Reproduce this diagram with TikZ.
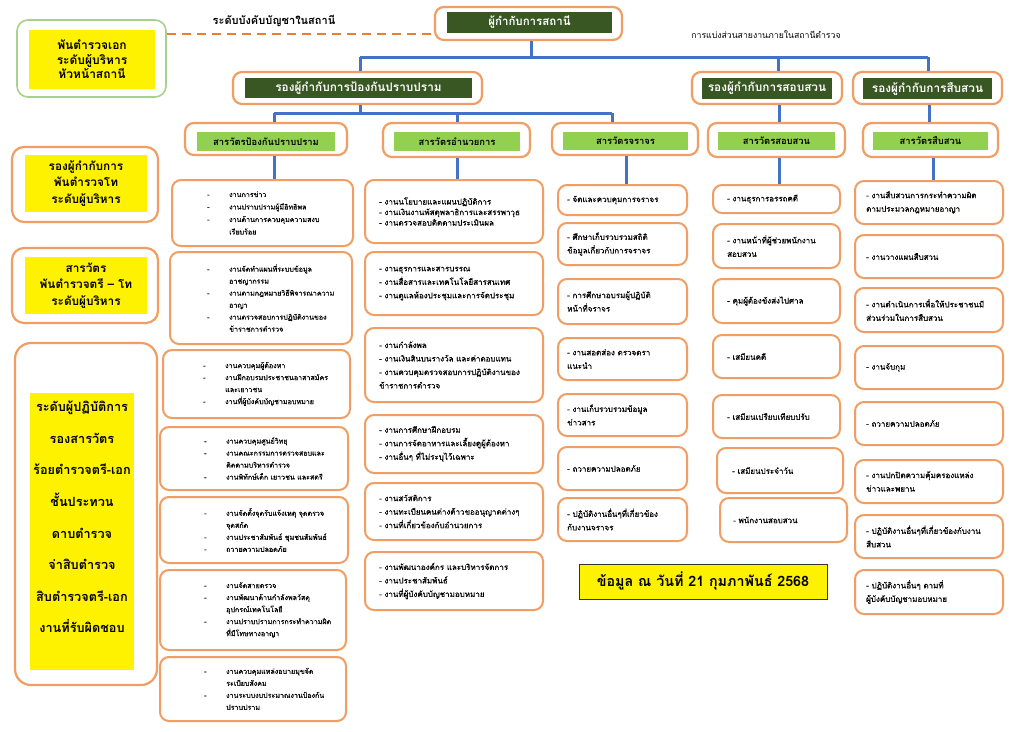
\documentclass[tikz,border=0pt]{standalone}
\usepackage{fontspec}
\setmainfont{Loma}[Script=Thai]
\newfontfamily\itemfont{Loma}[Script=Thai,FakeBold=0.6]
\definecolor{orng}{RGB}{240,158,100}
\definecolor{orngd}{RGB}{237,125,49}
\definecolor{dkgreen}{RGB}{56,87,35}
\definecolor{ltgreen}{RGB}{146,208,80}
\definecolor{bluec}{RGB}{68,114,196}
\definecolor{grnb}{RGB}{169,209,142}
\newlength\dind \setlength\dind{22pt}
\newcommand\dl[1]{\makebox[\dind][l]{-}#1}
\newcommand\cl[1]{\hspace*{\dind}#1}
\newcommand\mkbox[7]{%
 \pgfmathsetlengthmacro\bw{#3-#2}\pgfmathsetlengthmacro\bh{#5-#4}%
 \node[#6,minimum width=\bw,minimum height=\bh] (#1) at ({(#2+#3)/2},{(#4+#5)/2}) {#7};}
\newcommand\mkitem[8]{%
 \mkbox{#1}{#2}{#3}{#4}{#5}{itembox}{}%
 \node[itemtext,#7] (#1-t) at (#6,{(#4+#5)/2}) {#8};}
\begin{document}
\begin{tikzpicture}[x=1pt,y=-1pt,
  obox/.style={draw=orng,line width=2.2pt,rounded corners=9pt,fill=white,inner sep=0pt},
  gbox/.style={draw=grnb,line width=1.6pt,rounded corners=11pt,fill=white,inner sep=0pt},
  dkbox/.style={fill=dkgreen,text=white,font=\bfseries\fontsize{11.8}{13}\selectfont,inner sep=0pt},
  ltbox/.style={fill=ltgreen,text=black,font=\bfseries\fontsize{9.4}{11}\selectfont,inner sep=0pt},
  ylbox/.style={fill=yellow,align=center,inner sep=0pt,font=\bfseries\fontsize{11.8}{16.5}\selectfont},
  itembox/.style={draw=orng,line width=2pt,rounded corners=9pt,fill=white,inner sep=0pt},
  itemtext/.style={anchor=west,align=left,inner sep=0pt,font=\itemfont\fontsize{8}{13.5}\selectfont},
  conn/.style={draw=bluec,line width=3pt},
  dashc/.style={draw=orngd,line width=2.5pt,dash pattern=on 9pt off 6pt},
  lbl/.style={inner sep=0pt}]
\useasboundingbox[fill=white] (0,0) rectangle (1024,731);

% top level
\mkbox{top}{435}{622}{7}{40}{obox}{}
\mkbox{topin}{447}{612}{12}{33}{dkbox,font=\bfseries\fontsize{11.5}{13}\selectfont}{ผู้กำกับการสถานี}
\mkbox{lA}{17}{166}{20}{97}{gbox}{}
\mkbox{lAin}{29}{155}{30}{89}{ylbox,font=\bfseries\fontsize{12}{14.5}\selectfont}{พันตำรวจเอก\\ระดับผู้บริหาร\\หัวหน้าสถานี}
\node[lbl,font=\bfseries\fontsize{11}{12}\selectfont] (lbl1) at (274,21) {ระดับบังคับบัญชาในสถานี};
\node[lbl,font=\fontsize{8.7}{12}\selectfont] (lbl2) at (766,35) {การแบ่งส่วนสายงานภายในสถานีตำรวจ};

% deputies
\mkbox{dep1}{233}{482}{72}{104}{obox}{}
\mkbox{dep1in}{245}{472}{78}{98}{dkbox}{รองผู้กำกับการป้องกันปราบปราม}
\mkbox{dep2}{692}{842}{72}{104}{obox}{}
\mkbox{dep2in}{702}{832}{78}{99}{dkbox}{รองผู้กำกับการสอบสวน}
\mkbox{dep3}{853}{1002}{72}{104}{obox}{}
\mkbox{dep3in}{863}{992}{78}{99}{dkbox}{รองผู้กำกับการสืบสวน}

% sections
\mkbox{sec1}{185}{347}{123}{155}{obox}{}
\mkbox{sec1in}{197}{335}{132}{151}{ltbox}{สารวัตรป้องกันปราบปราม}
\mkbox{sec2}{383}{530}{123}{157}{obox}{}
\mkbox{sec2in}{394}{520}{132}{151}{ltbox}{สารวัตรอำนวยการ}
\mkbox{sec3}{552}{698}{123}{155}{obox}{}
\mkbox{sec3in}{563}{688}{132}{150}{ltbox}{สารวัตรจราจร}
\mkbox{sec4}{708}{845}{123}{157}{obox}{}
\mkbox{sec4in}{718}{835}{132}{150}{ltbox}{สารวัตรสอบสวน}
\mkbox{sec5}{863}{998}{123}{157}{obox}{}
\mkbox{sec5in}{873}{988}{132}{150}{ltbox}{สารวัตรสืบสวน}

% left labels
\mkbox{lB}{12}{158}{147}{222}{obox,rounded corners=12pt}{}
\mkbox{lBin}{25}{147}{155}{212}{ylbox}{รองผู้กำกับการ\\พันตำรวจโท\\ระดับผู้บริหาร}
\mkbox{lC}{12}{158}{248}{323}{obox,rounded corners=12pt}{}
\mkbox{lCin}{25}{147}{257}{314}{ylbox}{สารวัตร\\พันตำรวจตรี -- โท\\ระดับผู้บริหาร}
\mkbox{lD}{15}{157}{343}{685}{obox,rounded corners=16pt}{}
\mkbox{lDin}{30}{134}{393}{670}{ylbox}{}
\node[align=center,inner sep=0pt,font=\bfseries\fontsize{12.7}{31.6}\selectfont] (lDt) at (82,517) {ระดับผู้ปฏิบัติการ\\รองสารวัตร\\ร้อยตำรวจตรี-เอก\\ชั้นประทวน\\ดาบตำรวจ\\จ่าสิบตำรวจ\\สิบตำรวจตรี-เอก\\งานที่รับผิดชอบ};

% column 1
\mkitem{c1a}{172}{353}{180}{246}{207}{font=\itemfont\fontsize{7.1}{12.5}\selectfont}{\dl{งานการข่าว}\\\dl{งานปราบปรามผู้มีอิทธิพล}\\\dl{งานด้านการควบคุมความสงบ}\\\cl{เรียบร้อย}}
\mkitem{c1b}{170}{352}{252}{344}{207}{font=\itemfont\fontsize{7.1}{12}\selectfont}{\dl{งานจัดทำแผนที่ระบบข้อมูล}\\\cl{อาชญากรรม}\\\dl{งานตามกฎหมายวิธีพิจารณาความ}\\\cl{อาญา}\\\dl{งานตรวจสอบการปฏิบัติงานของ}\\\cl{ข้าราชการตำรวจ}}
\mkitem{c1c}{163}{350}{350}{418}{203}{font=\itemfont\fontsize{7.1}{12}\selectfont}{\dl{งานควบคุมผู้ต้องหา}\\\dl{งานฝึกอบรมประชาชนอาสาสมัคร}\\\cl{และเยาวชน}\\\dl{งานที่ผู้บังคับบัญชามอบหมาย}}
\mkitem{c1d}{160}{348}{427}{490}{204}{font=\itemfont\fontsize{7.1}{12}\selectfont}{\dl{งานควบคุมศูนย์วิทยุ}\\\dl{งานคณะกรรมการตรวจสอบและ}\\\cl{ติดตามบริหารตำรวจ}\\\dl{งานพิทักษ์เด็ก เยาวชน และสตรี}}
\mkitem{c1e}{160}{348}{497}{563}{204}{font=\itemfont\fontsize{7.1}{12}\selectfont}{\dl{งานจัดตั้งจุดรับแจ้งเหตุ จุดตรวจ}\\\cl{จุดสกัด}\\\dl{งานประชาสัมพันธ์ ชุมชนสัมพันธ์}\\\dl{ถวายความปลอดภัย}}
\mkitem{c1f}{160}{346}{570}{650}{204}{font=\itemfont\fontsize{7.1}{12}\selectfont}{\dl{งานจัดสายตรวจ}\\\dl{งานพัฒนาด้านกำลังพลวัสดุ}\\\cl{อุปกรณ์เทคโนโลยี}\\\dl{งานปราบปรามการกระทำความผิด}\\\cl{ที่มีโทษทางอาญา}}
\mkitem{c1g}{160}{346}{657}{721}{204}{font=\itemfont\fontsize{7.1}{12}\selectfont}{\dl{งานควบคุมแหล่งอบายมุขจัด}\\\cl{ระเบียบสังคม}\\\dl{งานระบบงบประมาณงานป้องกัน}\\\cl{ปราบปราม}}

% column 2
\mkitem{c2a}{365}{543}{180}{243}{379}{font=\itemfont\fontsize{8}{10.5}\selectfont}{- งานนโยบายและแผนปฏิบัติการ\\- งานเงินงานพัสดุพลาธิการและสรรพาวุธ\\- งานตรวจสอบติดตามประเมินผล}
\mkitem{c2b}{365}{543}{252}{315}{379}{}{- งานธุรการและสารบรรณ\\- งานสื่อสารและเทคโนโลยีสารสนเทศ\\- งานดูแลห้องประชุมและการจัดประชุม}
\mkitem{c2c}{365}{543}{328}{402}{379}{}{- งานกำลังพล\\- งานเงินสินบนรางวัล และค่าตอบแทน\\- งานควบคุมตรวจสอบการปฏิบัติงานของ\\ข้าราชการตำรวจ}
\mkitem{c2d}{365}{543}{415}{473}{379}{}{- งานการศึกษาฝึกอบรม\\- งานการจัดอาหารและเลี้ยงดูผู้ต้องหา\\- งานอื่นๆ ที่ไม่ระบุไว้เฉพาะ}
\mkitem{c2e}{365}{543}{483}{540}{379}{}{- งานสวัสดิการ\\- งานทะเบียนคนต่างด้าวขออนุญาตต่างๆ\\- งานที่เกี่ยวข้องกับอำนวยการ}
\mkitem{c2f}{365}{543}{552}{610}{379}{}{- งานพัฒนาองค์กร และบริหารจัดการ\\- งานประชาสัมพันธ์\\- งานที่ผู้บังคับบัญชามอบหมาย}

% column 3
\mkitem{c3a}{558}{687}{185}{215}{567}{}{- จัดและควบคุมการจราจร}
\mkitem{c3b}{558}{687}{223}{265}{567}{}{- ศึกษาเก็บรวบรวมสถิติ\\ข้อมูลเกี่ยวกับการจราจร}
\mkitem{c3c}{558}{687}{279}{324}{567}{}{- การศึกษาอบรมผู้ปฏิบัติ\\หน้าที่จราจร}
\mkitem{c3d}{558}{687}{338}{380}{567}{}{- งานสอดส่อง ตรวจตรา\\แนะนำ}
\mkitem{c3e}{558}{687}{394}{436}{567}{}{- งานเก็บรวบรวมข้อมูล\\ข่าวสาร}
\mkitem{c3f}{558}{687}{447}{490}{567}{}{- ถวายความปลอดภัย}
\mkitem{c3g}{558}{687}{498}{541}{567}{}{- ปฏิบัติงานอื่นๆที่เกี่ยวข้อง\\กับงานจราจร}

% column 4
\mkitem{c4a}{713}{840}{185}{213}{727}{}{- งานธุรการอรรถคดี}
\mkitem{c4b}{713}{840}{224}{268}{727}{}{- งานหน้าที่ผู้ช่วยพนักงาน\\สอบสวน}
\mkitem{c4c}{713}{840}{279}{323}{727}{}{- คุมผู้ต้องขังส่งไปศาล}
\mkitem{c4d}{713}{840}{335}{378}{727}{}{- เสมียนคดี}
\mkitem{c4e}{713}{840}{395}{438}{727}{}{- เสมียนเปรียบเทียบปรับ}
\mkitem{c4f}{717}{843}{448}{493}{732}{}{- เสมียนประจำวัน}
\mkitem{c4g}{720}{847}{498}{542}{733}{}{- พนักงานสอบสวน}

% column 5
\mkitem{c5a}{855}{1003}{181}{224}{866}{}{- งานสืบสวนการกระทำความผิด\\ตามประมวลกฎหมายอาญา}
\mkitem{c5b}{855}{1003}{235}{278}{866}{}{- งานวางแผนสืบสวน}
\mkitem{c5c}{855}{1003}{288}{332}{866}{}{- งานดำเนินการเพื่อให้ประชาชนมี\\ส่วนร่วมในการสืบสวน}
\mkitem{c5d}{855}{1003}{346}{389}{866}{}{- งานจับกุม}
\mkitem{c5e}{855}{1003}{402}{445}{866}{}{- ถวายความปลอดภัย}
\mkitem{c5f}{855}{1003}{460}{503}{866}{}{- งานปกปิดความคุ้มครองแหล่ง\\ข่าวและพยาน}
\mkitem{c5g}{855}{1003}{515}{558}{866}{}{- ปฏิบัติงานอื่นๆที่เกี่ยวข้องกับงาน\\สืบสวน}
\mkitem{c5h}{855}{1003}{570}{614}{866}{}{- ปฏิบัติงานอื่นๆ ตามที่\\ผู้บังคับบัญชามอบหมาย}

% date
\mkbox{date}{579}{827}{564}{599}{fill=yellow,draw=black!80,line width=0.8pt,inner sep=0pt,font=\bfseries\fontsize{14.3}{18}\selectfont}{ข้อมูล ณ วันที่ 21 กุมภาพันธ์ 2568}

% connectors
\coordinate (b1L) at (360,57);
\coordinate (b1R) at (928,57);
\coordinate (j2) at (778,57);
\coordinate (b2L) at (274,113);
\coordinate (b2R) at (612,113);
\coordinate (v2) at (457,113);
\coordinate (v3) at (626,0);
\coordinate (v4) at (779,0);
\coordinate (v5) at (929,0);
\coordinate (w5) at (933,0);
\draw[dashc] (lA.east |- 0,34) -- (top.west |- 0,34);
\draw[conn] (top.south -| 531,0) -- (531,57);
\draw[conn] (b1L) -- (b1R);
\draw[conn] (b1L) -- (dep1.north -| b1L);
\draw[conn] (j2) -- (dep2.north -| j2);
\draw[conn] (b1R) -- (dep3.north -| b1R);
\draw[conn] (dep1.south -| b1L) -- (b1L |- b2L);
\draw[conn] (b2L) -- (b2R);
\draw[conn] (b2L) -- (sec1.north -| b2L);
\draw[conn] (v2) -- (sec2.north -| v2);
\draw[conn] (b2R) -- (sec3.north -| b2R);
\draw[conn] (dep2.south -| v4) -- (sec4.north -| v4);
\draw[conn] (dep3.south -| v5) -- (sec5.north -| v5);
\draw[conn] (sec1.south -| b2L) -- (c1a.north -| b2L);
\draw[conn] (sec2.south -| v2) -- (c2a.north -| v2);
\draw[conn] (sec3.south -| v3) -- (c3a.north -| v3);
\draw[conn] (sec4.south -| v4) -- (c4a.north -| v4);
\draw[conn] (sec5.south -| w5) -- (c5a.north -| w5);
\end{tikzpicture}
\end{document}
